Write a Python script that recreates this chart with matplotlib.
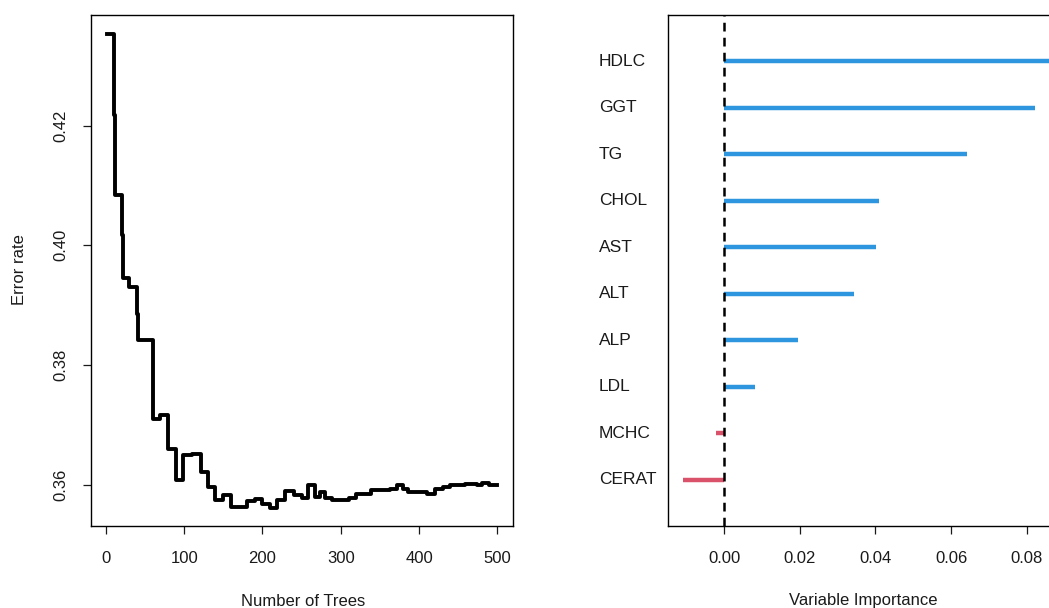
import matplotlib
matplotlib.use('Agg')
import matplotlib.pyplot as plt

plt.rcParams['font.family'] = ['Liberation Sans', 'DejaVu Sans']

# OOB error rate (tree where the step starts, error rate)
trees = [1, 11, 12, 20, 22, 29, 40, 41, 60, 69, 79, 90, 99, 110, 122, 130, 139,
         150, 160, 180, 190, 199, 210, 219, 229, 240, 251, 258, 267, 273, 280,
         289, 310, 320, 339, 363, 372, 380, 386, 397, 410, 421, 430, 440, 459,
         474, 481, 489, 500]
err = [0.4353, 0.4218, 0.4084, 0.4017, 0.3946, 0.3931, 0.3886, 0.3842, 0.3709,
       0.3716, 0.3659, 0.3608, 0.3649, 0.3652, 0.3622, 0.3597, 0.3575, 0.3583,
       0.3563, 0.3573, 0.3576, 0.3568, 0.3561, 0.3575, 0.3590, 0.3583, 0.3578,
       0.3600, 0.3580, 0.3587, 0.3577, 0.3575, 0.3577, 0.3585, 0.3592, 0.3593,
       0.3600, 0.3593, 0.3587, 0.3588, 0.3585, 0.3593, 0.3597, 0.3600, 0.3602,
       0.3600, 0.3603, 0.3599, 0.3599]

# variable importance, bottom to top
variables = ['CERAT', 'MCHC', 'LDL', 'ALP', 'ALT', 'AST', 'CHOL', 'TG', 'GGT', 'HDLC']
importance = [-0.0108, -0.0021, 0.0082, 0.0196, 0.0343, 0.0402, 0.0410, 0.0642, 0.0820, 0.0870]

W, H = 1049, 608
fig = plt.figure(figsize=(W / 100, H / 100), dpi=100)

def box(l, t, r, b):
    return [l / W, 1 - b / H, (r - l) / W, (b - t) / H]

tick_kw = dict(direction='out', length=6, width=0.9, labelsize=12, colors='#1a1a1a')

# left panel: error rate vs trees
ax1 = fig.add_axes(box(91, 15, 513, 526))
ax1.plot(trees, err, drawstyle='steps-post', color='black', lw=2.8)
ax1.set_xlim(-19, 520)
ax1.set_ylim(0.3531, 0.4385)
ax1.set_xticks([0, 100, 200, 300, 400, 500])
ax1.set_yticks([0.36, 0.38, 0.40, 0.42])
ax1.set_yticklabels(['0.36', '0.38', '0.40', '0.42'], rotation=90, va='center')
ax1.tick_params(axis='x', pad=12, **tick_kw)
ax1.tick_params(axis='y', pad=10, **tick_kw)
for s in ax1.spines.values():
    s.set_linewidth(1.0)
fig.text(303 / W, 1 - 601 / H, 'Number of Trees', ha='center', va='center',
         fontsize=12, color='#1a1a1a')
fig.text(20 / W, 1 - 270 / H, 'Error rate', ha='center', va='center',
         rotation=90, fontsize=12, color='#1a1a1a')

# right panel: variable importance
ax2 = fig.add_axes(box(668, 15, 1058, 526))
rows = list(range(1, len(variables) + 1))
for y, v in zip(rows, importance):
    c = '#2E95DF' if v > 0 else '#DA5269'
    ax2.plot([0, v], [y, y], color=c, lw=3.2, solid_capstyle='butt')
ax2.axvline(0, color='black', lw=1.8, ls=(0, (3.5, 2.5)))
ax2.set_xlim(-0.0148, 0.0882)
ax2.set_ylim(0, 11)
ax2.set_yticks([])
ax2.set_xticks([0.0, 0.02, 0.04, 0.06, 0.08])
ax2.set_xticklabels(['0.00', '0.02', '0.04', '0.06', '0.08'])
ax2.tick_params(axis='x', pad=12, **tick_kw)
for s in ax2.spines.values():
    s.set_linewidth(1.0)
for y, name in zip(rows, variables):
    ax2.text(-0.177, y, name, transform=ax2.get_yaxis_transform(), ha='left',
             va='center', fontsize=12.5, color='#1a1a1a')
fig.text(863 / W, 1 - 601 / H, 'Variable Importance', ha='center', va='center',
         fontsize=12, color='#1a1a1a')

fig.savefig('out.png', dpi=100)
